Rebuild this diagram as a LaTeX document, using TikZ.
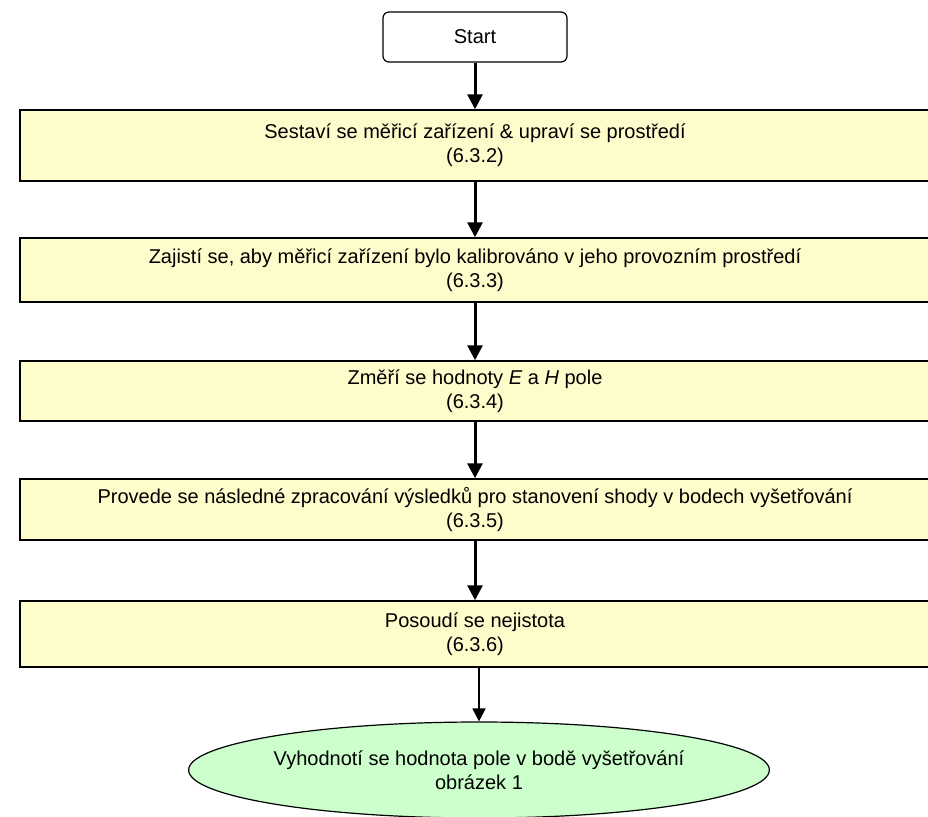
\documentclass[tikz,border=0pt]{standalone}
\usepackage{fontspec}
\setmainfont{Liberation Sans}
\usetikzlibrary{arrows.meta,shapes.geometric}
\definecolor{stagefill}{HTML}{FFFCCC}
\definecolor{endfill}{HTML}{CCFFCC}
\begin{document}
\begin{tikzpicture}[x=1pt,y=-1pt,font=\fontsize{20}{24}\selectfont]
        \tikzstyle{startbox}=[rectangle,rounded corners=6pt,draw=black,line width=1.2pt,fill=white,minimum width=184pt,minimum height=50pt]
        \tikzstyle{stage}=[rectangle,draw=black,line width=1.5pt,fill=stagefill,minimum width=910pt,align=center,inner sep=0pt]
        \tikzstyle{finish}=[ellipse,draw=black,line width=1.2pt,fill=endfill,minimum width=570pt,minimum height=96pt,align=center,inner sep=0pt]
        \tikzstyle{edge}=[draw,line width=3pt,-{Triangle[width=15pt,length=15pt]}]
        \tikzstyle{thinedge}=[draw,line width=1.8pt,-{Triangle[width=13pt,length=13pt]}]
        \useasboundingbox (0,0) rectangle (928,816);
       \begin{scope}
         \node [startbox] (start) at (475,37) {Start};
         \node [stage,minimum height=71pt] (s1) at (475,145.5) {Sestaví se měřicí zařízení \& upraví se prostředí\\(6.3.2)};
         \node [stage,minimum height=64pt] (s2) at (475,270) {Zajistí se, aby měřicí zařízení bylo kalibrováno v jeho provozním prostředí\\(6.3.3)};
         \node [stage,minimum height=60pt] (s3) at (475,391) {Změří se hodnoty \textit{E} a \textit{H} pole\\(6.3.4)};
         \node [stage,minimum height=61pt] (s4) at (475,509.5) {Provede se následné zpracování výsledků pro stanovení shody v bodech vyšetřování\\(6.3.5)};
         \node [stage,minimum height=66pt] (s5) at (475,634) {Posoudí se nejistota\\(6.3.6)};
         \node [finish] (result) at (479,770) {Vyhodnotí se hodnota pole v bodě vyšetřování\\obrázek 1};
         \coordinate (s5out) at (s5.south -| result.north);
         \path[edge] (start) edge (s1);
         \path[edge] (s1) edge (s2);
         \path[edge] (s2) edge (s3);
         \path[edge] (s3) edge (s4);
         \path[edge] (s4) edge (s5);
         \draw[thinedge] (s5out) -- (result.north);
        \end{scope}
      \end{tikzpicture}
\end{document}
